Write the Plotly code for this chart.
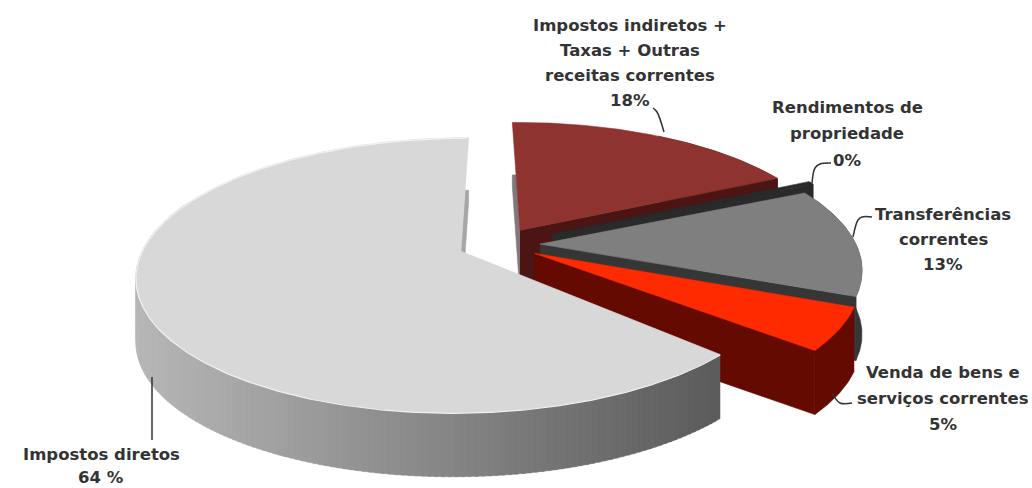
import numpy as np
import plotly.graph_objects as go

# ---- data ----
categories = ["Impostos indiretos + Taxas + Outras receitas correntes",
              "Rendimentos de propriedade", "Transferências correntes",
              "Venda de bens e serviços correntes", "Impostos diretos"]
values = [18, 0.4, 13, 5, 64]
top_colors = ["#8e3330", "#2a2a2a", "#7f7f7f", "#ff2a00", "#d8d8d8"]
wall_colors = ["#4a1512", "#2a2a2a", "#363636", "#640a00", "#8a8a8a"]
pulls = [0.13, 0.19, 0.13, 0.13, 0.13]
start_trim = [0, 0, 0, 0, 3]

label_lines = [
    ["Impostos indiretos +", "Taxas + Outras", "receitas correntes", "18%"],
    ["Rendimentos de", "propriedade", "0%"],
    ["Transferências", "correntes", "13%"],
    ["Venda de bens e", "serviços correntes", "5%"],
    ["Impostos diretos", "64 %"],
]
label_x = [630, 847, 943, 943, 101]
label_y = [25, 107, 214, 372, 454]
label_step = [25, 26.5, 25, 26, 23.5]

leader_x = [[653, 657, 664], [812, 815, 820, 831], [853, 858, 862, 872], [832, 840, 852], [152, 152]]
leader_y = [[108, 112, 132], [183, 168, 164, 163], [237, 220, 217, 217], [393, 403, 403], [377, 440]]

# ---- projection of the tilted pie ----
CX, CY = 499, 244.5
R, RY, K = 316, 131, 0.1727
DEPTH, ROT = 64, -1.0


def project(u, v):
    d = 1 - K * v
    return CX + R * u / d, CY + RY * v / d


angles = np.cumsum([0] + values) * 3.6 + ROT


def wedge(i):
    a0, a1 = angles[i] + start_trim[i], angles[i + 1]
    n = max(3, int((a1 - a0) / 0.5))
    mid = np.radians((a0 + a1) / 2)
    ox, oy = pulls[i] * np.sin(mid), -pulls[i] * np.cos(mid)
    th = np.radians(np.linspace(a0, a1, n))
    ax, ay = project(ox, oy)
    x, y = project(ox + np.sin(th), oy - np.cos(th))
    return ax, ay, x, y


fig = go.Figure()


def poly(xs, ys, color, lw=0.6):
    fig.add_trace(go.Scatter(x=list(xs), y=list(ys), mode="lines", fill="toself",
                             fillcolor=color, line=dict(color=color, width=lw),
                             hoverinfo="skip", showlegend=False))


def grey_at(x):
    # side-wall shading of the large slice, light on the left, dark on the right
    t = np.clip((x - 135) / (722 - 135), 0, 1)
    g = int(184 - t * (184 - 92))
    return f"rgb({g},{g},{g})"


def rear_sliver(ax, ay, px, py, color):
    # the part of a rear edge wall that peeks out behind the top face
    ys = py + 0.82 * DEPTH
    ex = ax + (px - ax) * (ay - ys) / (ay - py)
    poly([ax, ex, px, px, ax], [ay, ys, ys, py + DEPTH, ay + DEPTH], color)


for i in range(len(values)):
    ax, ay, x, y = wedge(i)
    if i == 4:
        for j in range(len(x) - 2, -1, -2):
            if y[j] < CY - 40:
                continue  # rear part of the wall is hidden behind the top face
            k = min(j + 3, len(x) - 1)
            xs = list(x[j:k + 1]) + list(x[j:k + 1][::-1])
            ys = list(y[j:k + 1]) + list((y[j:k + 1] + DEPTH)[::-1])
            poly(xs, ys, grey_at(x[j]), lw=0.4)
        rear_sliver(ax, ay, x[-1], y[-1], "#a6a6a6")
    else:
        h = len(x) // 2 if i == 0 else 0
        poly(list(x[h:]) + list(x[h:][::-1]), list(y[h:]) + list((y[h:] + DEPTH)[::-1]), wall_colors[i])
        if i == 0:
            rear_sliver(ax, ay, x[0], y[0], "#80787a")
        poly([ax, x[-1], x[-1], ax], [ay, y[-1], y[-1] + DEPTH, ay + DEPTH], wall_colors[i])
    poly([ax] + list(x) + [ax], [ay] + list(y) + [ay], top_colors[i])
    if i == 4:
        fig.add_trace(go.Scatter(x=x[:-1], y=y[:-1] + 0.5, mode="lines",
                                 line=dict(color="#f2f2f2", width=1.2),
                                 hoverinfo="skip", showlegend=False))

for lx, ly in zip(leader_x, leader_y):
    fig.add_trace(go.Scatter(x=lx, y=ly, mode="lines", line=dict(color="#333333", width=1.5, shape="spline"),
                             hoverinfo="skip", showlegend=False))

annotations = []
for lines, xc, y0, step in zip(label_lines, label_x, label_y, label_step):
    for n, t in enumerate(lines):
        annotations.append(dict(x=xc, y=y0 + n * step, xref="x", yref="y", text=f"<b>{t}</b>",
                                showarrow=False, xanchor="center", yanchor="middle",
                                font=dict(family="DejaVu Sans", size=16.5, color="#333333")))

fig.update_layout(
    width=1032, height=488, margin=dict(l=0, r=0, t=0, b=0),
    paper_bgcolor="white", plot_bgcolor="white", showlegend=False,
    xaxis=dict(range=[0, 1032], visible=False, fixedrange=True),
    yaxis=dict(range=[488, 0], visible=False, fixedrange=True),
    annotations=annotations,
)
fig.write_html("out.html", config={"displayModeBar": False},
               post_script="document.body.style.margin='0';")
